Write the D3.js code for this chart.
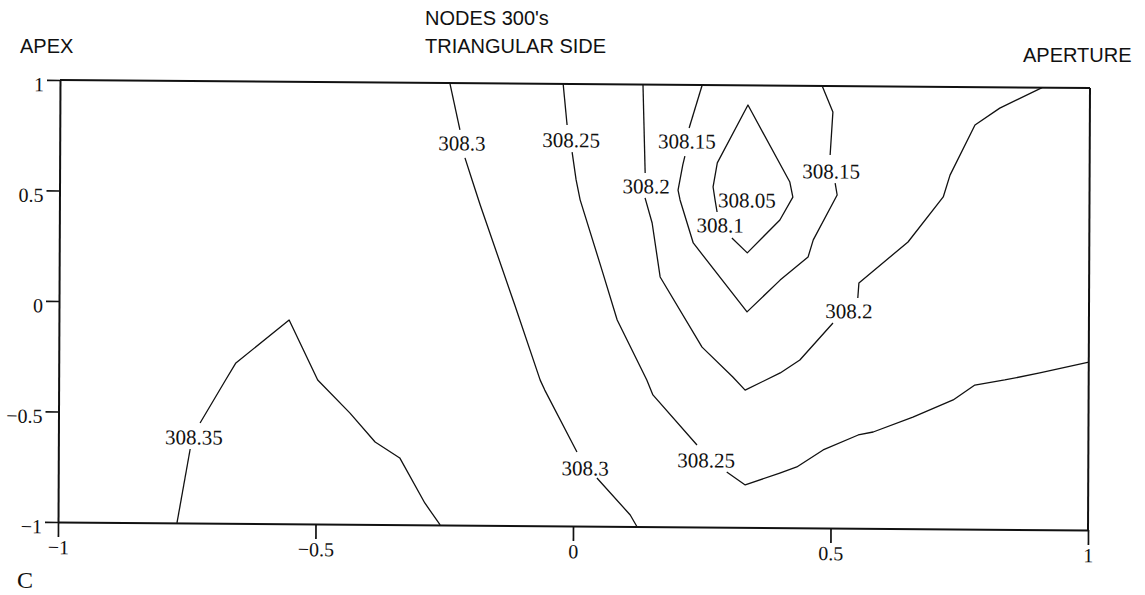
<!DOCTYPE html>
<html>
<head>
<meta charset="utf-8">
<script src="https://cdn.jsdelivr.net/npm/d3@7"></script>
<style>
  body { margin: 0; background: #fff; }
  svg { display: block; }
  .title { font-family: "Liberation Sans", Arial, sans-serif; font-size: 20px; fill: #111; }
  .serif { font-family: "Liberation Serif", "Times New Roman", serif; fill: #111; }
</style>
</head>
<body>
<svg id="chart" width="1145" height="595"></svg>
<script>
// axis ticks
const xTicks = [-1, -0.5, 0, 0.5, 1];
const yTicks = [-1, -0.5, 0, 0.5, 1];

// contour lines, split where the label sits
const c30835 = [
  [[-0.769, -1], [-0.744, -0.665]],
  [[-0.725, -0.547], [-0.677, -0.356], [-0.656, -0.274], [-0.553, -0.078], [-0.497, -0.348],
   [-0.434, -0.497], [-0.385, -0.627], [-0.337, -0.698], [-0.288, -0.901], [-0.258, -1]]
];
const c3083 = [
  [[-0.243, 1], [-0.223, 0.788]],
  [[-0.213, 0.662], [-0.199, 0.562], [-0.183, 0.449], [-0.115, -0.002], [-0.065, -0.341],
   [-0.056, -0.386], [0.007, -0.665]],
  [[0.046, -0.782], [0.111, -0.948], [0.124, -1]]
];
const c30825 = [
  [[-0.023, 1], [-0.015, 0.814]],
  [[-0.005, 0.692], [0.003, 0.566], [0.011, 0.476], [0.054, 0.159], [0.084, -0.066],
   [0.142, -0.337], [0.154, -0.404], [0.240, -0.629]],
  [[0.298, -0.750], [0.334, -0.808], [0.401, -0.753], [0.434, -0.725], [0.485, -0.647],
   [0.553, -0.578], [0.582, -0.564], [0.659, -0.495], [0.737, -0.416], [0.779, -0.348],
   [0.837, -0.324], [0.905, -0.291], [1, -0.240]]
];
const c3082 = [
  [[0.132, 1], [0.137, 0.6]],
  [[0.137, 0.487], [0.151, 0.374], [0.167, 0.130], [0.249, -0.186], [0.309, -0.320],
   [0.333, -0.379], [0.401, -0.300], [0.439, -0.241], [0.503, -0.072]],
  [[0.551, 0.042], [0.553, 0.110], [0.648, 0.297], [0.716, 0.502], [0.729, 0.601],
   [0.777, 0.829], [0.825, 0.906], [0.907, 1]]
];
const c30815 = [
  [[0.247, 1], [0.222, 0.805]],
  [[0.214, 0.678], [0.210, 0.638], [0.201, 0.524], [0.205, 0.479], [0.231, 0.285],
   [0.336, -0.025], [0.400, 0.120], [0.454, 0.225], [0.464, 0.303], [0.510, 0.507], [0.506, 0.561]],
  [[0.496, 0.688], [0.501, 0.882], [0.480, 1]]
];
const c3081 = [
  [[0.306, 0.309], [0.336, 0.242], [0.399, 0.392], [0.424, 0.496], [0.418, 0.564],
   [0.336, 0.911], [0.277, 0.648], [0.269, 0.539], [0.273, 0.480], [0.277, 0.426]]
];

// contour labels: text, x, y
const contourLabels = [
  ["308.35", -0.737, -0.611],
  ["308.3", -0.219, 0.729],
  ["308.25", -0.007, 0.747],
  ["308.2", 0.139, 0.541],
  ["308.15", 0.218, 0.746],
  ["308.05", 0.335, 0.481],
  ["308.1", 0.283, 0.367],
  ["308.15", 0.498, 0.615],
  ["308.2", 0.534, -0.017],
  ["308.3", 0.023, -0.737],
  ["308.25", 0.258, -0.697]
];

const contours = [c30835, c3083, c30825, c3082, c30815, c3081];

const svg = d3.select("#chart");
const W = 1030, H = 442;

const x = d3.scaleLinear().domain([-1, 1]).range([0, W]);
const y = d3.scaleLinear().domain([-1, 1]).range([H, 0]);

// the scanned page is a little skewed, so the plot frame is too
const g = svg.append("g").attr("transform", "matrix(1 0.0078 -0.0045 1 60 80)");

const line = d3.line().x(d => x(d[0])).y(d => y(d[1]));

contours.forEach(c => {
  c.forEach(seg => {
    g.append("path")
      .attr("d", line(seg))
      .attr("fill", "none")
      .attr("stroke", "#111")
      .attr("stroke-width", 1.3)
      .attr("stroke-linejoin", "round");
  });
});

g.selectAll(".clabel")
  .data(contourLabels)
  .enter()
  .append("text")
  .attr("class", "clabel serif")
  .attr("x", d => x(d[1]))
  .attr("y", d => y(d[2]))
  .attr("dy", "0.35em")
  .attr("text-anchor", "middle")
  .style("font-size", "21px")
  .text(d => d[0]);

// frame: top and right
g.append("line")
  .attr("x1", x(-1)).attr("x2", x(1))
  .attr("y1", y(1)).attr("y2", y(1))
  .attr("stroke", "#111").attr("stroke-width", 2);
g.append("line")
  .attr("x1", x(1)).attr("x2", x(1))
  .attr("y1", y(1)).attr("y2", y(-1))
  .attr("stroke", "#111").attr("stroke-width", 2);

// axes
const xAxis = g.append("g")
  .attr("transform", `translate(0,${H})`)
  .call(d3.axisBottom(x).tickValues(xTicks).tickSize(15).tickSizeOuter(0)
    .tickPadding(3).tickFormat(d3.format("")));

const yAxis = g.append("g")
  .call(d3.axisLeft(y).tickValues(yTicks).tickSize(13).tickSizeOuter(0)
    .tickPadding(3).tickFormat(d3.format("")));

[xAxis, yAxis].forEach(a => {
  a.attr("font-family", null).attr("font-size", null);
  a.select(".domain").attr("stroke", "#111").attr("stroke-width", 2);
  a.selectAll(".tick line").attr("stroke", "#111").attr("stroke-width", 1.7);
  a.selectAll(".tick text").attr("class", "serif").style("font-size", "20px");
});
yAxis.selectAll(".tick text").attr("dy", "0.55em");

// titles
svg.append("text").attr("class", "title").attr("x", 20).attr("y", 53).text("APEX");
svg.append("text").attr("class", "title").attr("x", 425).attr("y", 25).text("NODES 300's");
svg.append("text").attr("class", "title").attr("x", 425).attr("y", 53).text("TRIANGULAR SIDE");
svg.append("text").attr("class", "title").attr("x", 1023).attr("y", 62).text("APERTURE");
svg.append("text").attr("class", "serif").attr("x", 17).attr("y", 588)
  .style("font-size", "24px").text("C");
</script>
</body>
</html>
